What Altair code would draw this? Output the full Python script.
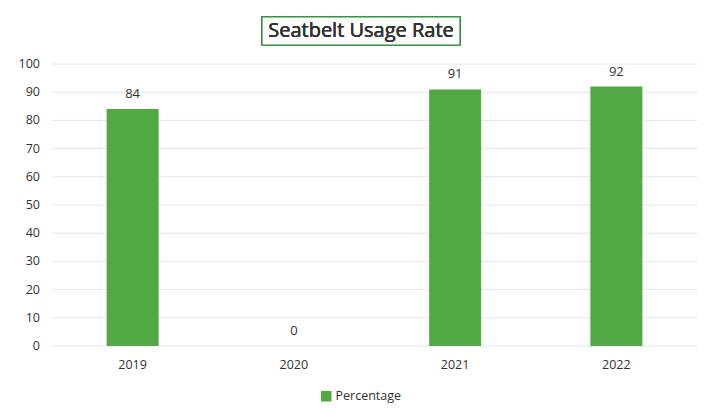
import altair as alt
import pandas as pd

years = ["2019", "2020", "2021", "2022"]
percentage = [84, 0, 91, 92]
series_name = "Percentage"
y_ticks = [0, 10, 20, 30, 40, 50, 60, 70, 80, 90, 100]

df = pd.DataFrame({"Year": years, "Value": percentage, "Series": [series_name] * len(years)})
ticks_df = pd.DataFrame({"Tick": y_ticks})

x_axis = alt.Axis(labelAngle=0, domain=False, ticks=False, labelPadding=12,
                  labelFontSize=12.5, labelColor="#333333", labelFont="Open Sans")
y_scale = alt.Scale(domain=[0, 100], nice=False)

grid = alt.Chart(ticks_df).mark_rule(color="#e3e6ea", strokeWidth=1).encode(
    y=alt.Y("Tick:Q", scale=y_scale, axis=None, title=None),
)

tick_labels = alt.Chart(ticks_df).mark_text(align="right", baseline="middle",
                                            fontSize=12.5, color="#333333",
                                            font="Open Sans").encode(
    y=alt.Y("Tick:Q", scale=y_scale, axis=None, title=None),
    x=alt.value(-12),
    text=alt.Text("Tick:Q"),
)

base = alt.Chart(df)

bars = base.mark_bar(size=52).encode(
    x=alt.X("Year:N", sort=years, title=None,
            scale=alt.Scale(paddingInner=0.0, paddingOuter=0.0), axis=x_axis),
    y=alt.Y("Value:Q", title=None, scale=y_scale, axis=None),
    color=alt.Color("Series:N", title=None,
                    scale=alt.Scale(domain=[series_name], range=["#52a843"]),
                    legend=alt.Legend(orient="none", legendX=268, legendY=326,
                                      symbolType="square", symbolSize=110,
                                      symbolStrokeWidth=0, labelFontSize=12.5,
                                      labelColor="#333333", labelFont="Open Sans",
                                      labelOffset=3)),
)

labels = base.mark_text(baseline="bottom", dy=-8, fontSize=13, color="#333333",
                        font="Open Sans").encode(
    x=alt.X("Year:N", sort=years, title=None),
    y=alt.Y("Value:Q", title=None, axis=None),
    text=alt.Text("Value:Q"),
)

title_box = base.mark_rect(fill="white", stroke="#2e8b3a", strokeWidth=1.2).encode(
    x=alt.value(210), x2=alt.value(408), y=alt.value(-47), y2=alt.value(-19)
)

title_text = base.mark_text(fontSize=20, color="#333333", font="Open Sans",
                            baseline="middle", align="center").encode(
    x=alt.value(309), y=alt.value(-33), text=alt.value("Seatbelt Usage Rate")
)

chart = alt.layer(grid, tick_labels, bars, labels, title_box, title_text).properties(
    width=645,
    height=282,
    autosize=alt.AutoSizeParams(type="none"),
    padding={"left": 44, "top": 56, "right": 2, "bottom": 60},
    background="white",
).configure_view(stroke=None)

chart.save("out.html", embed_options={"renderer": "svg", "actions": False})
